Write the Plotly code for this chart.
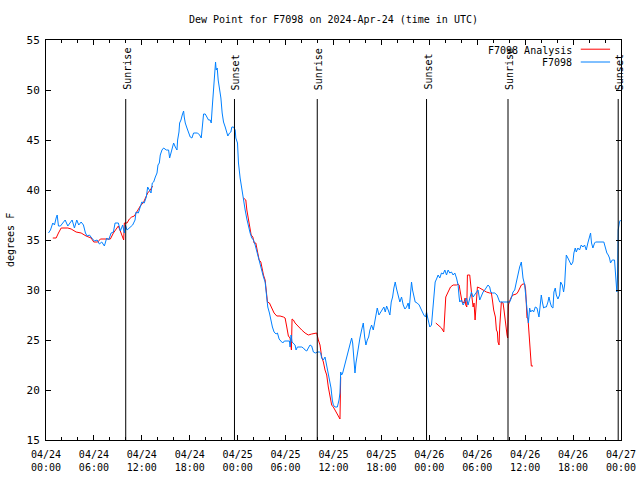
import plotly.graph_objects as go
from datetime import datetime, timedelta

# ---- data (hours after 2024-04-24 00:00 UTC, dew point in degrees F) ----
base_time = "2024-04-24 00:00"

obs_hours = [0.31, 0.56, 0.85, 1.06, 1.27, 1.40, 1.56, 1.81, 2.10, 2.40, 2.73, 3.00, 3.27, 3.56, 3.85, 4.10,
             4.40, 4.69, 4.94, 5.15, 5.44, 5.73, 6.06, 6.40, 6.69, 6.98, 7.31, 7.60, 7.85, 8.15, 8.44, 8.65,
             9.06, 9.31, 9.60, 9.81, 9.94, 10.15, 10.44, 10.85, 11.15, 11.27, 11.56, 11.81, 12.00, 12.30,
             12.56, 12.73, 12.98, 13.15, 13.31, 13.48, 13.69, 13.90, 14.02, 14.19, 14.31, 14.52, 14.73,
             15.06, 15.35, 15.48, 15.65, 15.81, 15.98, 16.19, 16.40, 16.48, 16.65, 16.73, 16.90, 17.06,
             17.23, 17.31, 17.44, 17.65, 17.85, 18.06, 18.27, 18.48, 18.98, 19.23, 19.44, 19.56, 19.73,
             19.94, 20.15, 20.35, 20.56, 20.69, 20.81, 20.98, 21.10, 21.23, 21.31, 21.44, 21.56, 21.73,
             21.90, 22.06, 22.23, 22.44, 22.65, 22.77, 22.98, 23.15, 23.27, 23.48, 23.69, 23.77, 23.98,
             24.10, 24.31, 24.52, 24.73, 24.94, 25.15, 25.35, 25.56, 25.77, 25.98, 26.19, 26.40, 26.60,
             26.81, 27.02, 27.23, 27.44, 27.56, 27.65, 27.77, 27.98, 28.15, 28.35, 28.56, 28.81, 28.98,
             29.19, 29.40, 29.65, 29.85, 30.48, 30.56, 30.69, 30.81, 30.98, 31.19, 31.31, 31.48, 32.02,
             32.23, 32.44, 32.65, 32.85, 33.06, 33.27, 33.48, 33.73, 33.98, 34.23, 34.40, 34.52, 34.73,
             34.94, 35.06, 35.23, 35.40, 35.56, 35.69, 35.85, 35.98, 36.19, 36.48, 36.69, 36.81, 36.90,
             37.02, 37.15, 37.31, 37.48, 37.65, 37.85, 37.98, 38.15, 38.27, 38.40, 38.56, 38.69, 38.81,
             38.98, 39.15, 39.31, 39.52, 39.73, 39.90, 40.06, 40.23, 40.40, 40.56, 40.77, 40.98, 41.15,
             41.31, 41.48, 41.69, 41.90, 42.10, 42.31, 42.48, 42.65, 42.85, 43.06, 43.23, 43.40, 43.56,
             43.73, 43.90, 44.10, 44.31, 44.52, 44.73, 44.94, 45.15, 45.35, 45.48, 45.65, 45.77, 45.90,
             46.06, 46.23, 46.48, 46.73, 46.90, 47.10, 47.31, 47.52, 47.65, 47.77, 47.90, 48.06, 48.27,
             48.40, 48.56, 48.73, 48.90, 49.10, 49.31, 49.52, 49.73, 49.94, 50.15, 50.35, 50.56, 50.77,
             50.98, 51.19, 51.40, 51.60, 51.73, 51.81, 52.02, 52.23, 52.44, 52.65, 52.85, 53.06, 53.27,
             53.48, 53.69, 53.90, 54.10, 54.31, 54.52, 54.73, 54.94, 55.15, 55.35, 55.56, 55.69, 55.90,
             56.19, 56.48, 56.65, 56.81, 58.06, 58.27, 58.48, 58.69, 58.90, 59.10, 59.31, 59.52, 59.65,
             59.73, 59.94, 60.15, 60.27, 60.40, 60.56, 60.69, 60.90, 61.06, 61.27, 61.48, 61.73, 61.90,
             62.02, 62.15, 62.31, 62.48, 62.65, 62.85, 62.98, 63.15, 63.31, 63.48, 63.60, 63.77, 63.90,
             64.10, 64.31, 64.44, 64.65, 64.81, 64.94, 65.02, 65.15, 65.35, 65.56, 65.77, 65.98, 66.10,
             66.27, 66.40, 66.60, 66.81, 67.02, 67.23, 67.44, 67.65, 67.85, 68.06, 68.19, 68.31, 68.48,
             68.69, 68.81, 69.85, 70.06, 70.23, 70.40, 70.56, 70.69, 70.90, 71.19, 71.31, 71.40, 71.48,
             71.56, 71.65, 71.81, 71.94]
obs_values = [35.7, 36.0, 36.7, 36.5, 37.2, 37.5, 36.4, 36.4, 36.7, 37.0, 36.4, 36.7, 37.0, 36.2, 37.0, 36.5,
              36.8, 36.5, 35.7, 35.4, 35.5, 35.2, 34.9, 35.0, 34.6, 34.8, 34.4, 35.2, 35.0, 35.7, 35.8, 36.7,
              36.7, 35.9, 36.5, 35.7, 36.5, 36.0, 36.2, 36.5, 37.0, 37.8, 37.7, 38.3, 38.8, 38.7,
              39.3, 40.3, 40.0, 39.7, 40.7, 40.8, 41.3, 41.7, 42.5, 42.7, 43.5, 44.0, 44.2,
              44.0, 44.0, 43.2, 43.7, 44.3, 44.7, 44.3, 44.0, 45.0, 45.8, 46.7, 47.0, 47.5,
              47.9, 47.3, 46.7, 46.2, 45.8, 45.3, 45.2, 45.7, 45.7, 45.5, 45.2, 46.3, 47.6,
              47.6, 47.2, 47.0, 47.0, 46.7, 48.2, 50.0, 51.3, 52.8, 52.0, 52.2, 51.0, 50.0,
              49.2, 47.7, 46.8, 46.3, 45.8, 45.4, 45.7, 45.8, 46.3, 46.3, 46.0, 45.2, 44.7,
              42.7, 41.2, 40.0, 39.0, 38.0, 37.1, 36.3, 35.7, 35.2, 35.0, 34.5, 33.8, 33.2,
              32.5, 32.0, 31.3, 30.8, 30.0, 29.0, 28.3, 27.7, 27.0, 26.3, 25.8, 25.6, 25.7,
              25.1, 24.9, 24.7, 24.9, 24.9, 24.3, 25.5, 24.8, 24.7, 24.5, 24.0, 24.3, 24.3,
              24.2, 24.0, 23.9, 24.2, 24.5, 24.4, 23.8, 23.7, 23.8, 23.8, 23.7, 23.2, 23.0,
              23.3, 22.8, 22.2, 21.3, 20.8, 20.2, 19.0, 18.5, 18.3, 18.3, 19.0, 19.7, 21.8,
              21.5, 21.7, 22.2, 22.7, 23.3, 24.0, 24.2, 25.0, 25.2, 24.7, 23.0, 21.7, 22.7,
              23.7, 24.2, 25.2, 26.0, 26.7, 25.3, 24.5, 25.0, 25.3, 26.0, 26.5, 26.0, 26.8,
              27.8, 28.2, 27.5, 27.8, 28.1, 28.3, 27.8, 28.4, 28.0, 27.5, 28.8, 29.3, 30.2,
              30.8, 30.1, 29.3, 28.8, 29.3, 28.5, 28.1, 28.3, 28.7, 28.1, 29.7, 30.8, 30.0,
              29.3, 28.8, 28.7, 28.5, 28.2, 27.8, 27.5, 27.3, 27.8, 27.3, 26.8, 26.3, 26.5,
              28.0, 29.8, 30.8, 31.1, 31.5, 31.2, 31.7, 31.6, 32.0, 31.5, 32.0, 31.7, 31.8,
              31.5, 31.7, 31.2, 30.5, 29.3, 28.8, 29.0, 28.5, 28.8, 29.2, 28.5, 29.2, 29.8,
              29.3, 29.5, 29.8, 30.0, 29.0, 29.5, 29.8, 30.0, 30.2, 30.5, 30.3, 29.8, 29.7,
              29.7, 29.5, 29.2, 28.8, 28.8, 29.2, 29.8, 30.0, 30.8, 31.7, 32.3, 32.8, 32.0,
              31.2, 30.5, 29.0, 28.0, 26.7, 28.2, 27.8, 28.0, 27.8, 28.3, 28.2, 27.3, 28.5,
              29.5, 28.8, 28.2, 28.3, 28.3, 28.8, 29.3, 28.7, 28.3, 28.2, 29.8, 30.2, 29.5,
              29.1, 29.5, 30.8, 30.5, 29.8, 30.5, 31.7, 33.5, 33.2, 32.8, 32.5, 32.8, 33.7,
              34.2, 33.8, 34.2, 34.0, 34.5, 34.3, 34.5, 34.0, 34.7, 35.5, 35.7, 34.7, 34.2,
              34.7, 34.8, 34.8, 34.2, 33.7, 33.5, 33.2, 32.7, 33.0, 33.0, 32.0, 31.2, 29.8,
              31.2, 36.0, 36.8, 37.0]

ana_hours = [0.85, 1.27, 1.56, 1.90, 2.73, 3.15, 3.77, 4.40, 5.02, 5.65, 5.98, 6.48, 6.81, 8.06, 8.44, 8.77,
             9.06, 9.40, 9.73, 9.81, 10.15, 10.44, 10.73, 11.06, 11.48, 11.81, 12.23, 12.73, 13.06, 13.35,
             None,
             24.73, 25.02, 25.15, 25.35, 25.56, 25.69, 25.90, 26.06, 26.27, 26.48, 26.69, 26.90, 27.10,
             27.23, 27.44, 27.56, 27.73, 27.98, 28.27, 28.56, 28.90, 29.31, 29.73, 29.94, 30.15, 30.35,
             30.56, 30.65, 30.73, 30.81, 30.98, 31.19, 31.40, 31.60, 31.81, 32.02, 32.44, 32.85, 33.27,
             33.69, 33.90, 34.10, 34.31, 34.52, 34.73, 34.94, 35.15, 35.35, 35.56, 35.77, 35.98, 36.19,
             36.40, 36.60, 36.81, 36.90,
             None,
             48.81, 49.10, 49.52, 49.81, 49.94, 50.06, 50.35, 50.65, 50.98, 51.40, 51.60, 51.73, 51.90,
             52.10, 52.23, 52.35, 52.48, 52.56, 52.69, 52.77, 53.06, 53.19, 53.35, 53.48, 53.60, 53.73,
             53.90, 54.02, 54.31, 54.73, 55.15, 55.56, 55.77, 55.90, 56.06, 56.27, 56.40, 56.52, 56.60,
             56.73, 56.81, 57.02, 57.23, 57.35, 57.48, 57.65, 57.73, 57.81, 57.90, 58.06, 58.27, 58.48,
             58.90, 59.10, 59.31, 59.52, 59.73, 59.94, 60.06, 60.15, 60.23, 60.35, 60.48, 60.56, 60.65,
             60.77, 60.98]
ana_values = [35.2, 35.2, 35.7, 36.2, 36.2, 36.1, 35.8, 35.7, 35.4, 35.2, 34.8, 34.8, 35.1, 35.1, 35.7, 36.1,
              36.4, 35.7, 35.0, 36.7, 36.7, 37.1, 37.3, 37.4, 38.0, 38.4, 38.8, 39.7, 40.0, 40.4,
              None,
              39.2, 39.0, 38.0, 37.0, 36.0, 35.5, 35.3, 34.7, 34.7, 33.7, 33.0, 32.8, 31.8,
              31.5, 31.0, 30.2, 28.8, 28.7, 28.2, 27.7, 27.4, 27.4, 27.3, 27.2, 26.3, 25.4,
              25.2, 24.3, 24.0, 27.1, 27.0, 26.7, 26.5, 26.3, 26.2, 26.0, 25.7, 25.5, 25.6,
              25.7, 25.7, 25.0, 24.5, 23.3, 22.8, 22.0, 21.5, 20.3, 19.3, 18.5, 18.3, 18.0,
              17.7, 17.5, 17.1, 21.3,
              None,
              26.7, 26.5, 26.2, 25.8, 28.0, 29.3, 29.8, 30.3, 30.5, 30.5, 30.6, 30.5, 29.7,
              28.8, 28.7, 28.8, 29.2, 28.5, 28.3, 31.5, 31.5, 30.0, 29.2, 28.3, 28.7, 27.0,
              29.3, 30.3, 30.2, 30.0, 29.8, 29.7, 29.7, 29.0, 28.0, 27.3, 26.0, 25.8, 24.8,
              24.5, 26.3, 28.8, 28.7, 28.0, 27.0, 26.3, 25.5, 25.2, 28.5, 28.9, 29.3, 29.5,
              29.6, 29.8, 30.2, 30.5, 30.6, 30.6, 30.0, 28.3, 27.2, 27.2, 25.7, 24.3, 23.3,
              22.4, 22.4]

sun_times = ["2024-04-24 09:59", "2024-04-24 23:36", "2024-04-25 09:58",
             "2024-04-25 23:39", "2024-04-26 09:51", "2024-04-26 23:39"]
sun_labels = ["Sunrise", "Sunset", "Sunrise", "Sunset", "Sunrise", "Sunset"]

tick_times = ["2024-04-24 00:00", "2024-04-24 06:00", "2024-04-24 12:00", "2024-04-24 18:00",
              "2024-04-25 00:00", "2024-04-25 06:00", "2024-04-25 12:00", "2024-04-25 18:00",
              "2024-04-26 00:00", "2024-04-26 06:00", "2024-04-26 12:00", "2024-04-26 18:00",
              "2024-04-27 00:00"]
tick_labels = ["04/24<br>00:00", "04/24<br>06:00", "04/24<br>12:00", "04/24<br>18:00",
               "04/25<br>00:00", "04/25<br>06:00", "04/25<br>12:00", "04/25<br>18:00",
               "04/26<br>00:00", "04/26<br>06:00", "04/26<br>12:00", "04/26<br>18:00",
               "04/27<br>00:00"]

series_names = ["F7098 Analysis", "F7098"]
series_colors = ["#ff0000", "#0080ff"]

# ---- build ----
t0 = datetime.strptime(base_time, "%Y-%m-%d %H:%M")


def to_times(hours):
    return [None if h is None else t0 + timedelta(hours=h) for h in hours]


FONT = "DejaVu Sans Mono"
fig = go.Figure()
fig.add_trace(go.Scatter(x=to_times(ana_hours), y=ana_values, mode="lines", name=series_names[0],
                         line=dict(color=series_colors[0], width=1), connectgaps=False))
fig.add_trace(go.Scatter(x=to_times(obs_hours), y=obs_values, mode="lines", name=series_names[1],
                         line=dict(color=series_colors[1], width=1), connectgaps=False))

for t, lab in zip(sun_times, sun_labels):
    fig.add_shape(type="line", xref="x", yref="paper", x0=t, x1=t, y0=0, y1=0.8525,
                  line=dict(color="black", width=1))
    fig.add_annotation(x=t, y=0.87, xref="x", yref="paper", text=lab, showarrow=False,
                       textangle=-90, xanchor="center", yanchor="bottom", xshift=1,
                       font=dict(family=FONT, size=10, color="black"))

# manual legend (text on left, sample on right, gnuplot style)
legend_rows_y = [0.975, 0.943]
for name, col, yy in zip(series_names, series_colors, legend_rows_y):
    fig.add_annotation(x=0.918, y=yy, xref="paper", yref="paper", text=name, showarrow=False,
                       xanchor="right", yanchor="middle",
                       font=dict(family=FONT, size=10, color="black"))
    fig.add_shape(type="line", xref="paper", yref="paper", x0=0.930, x1=0.981, y0=yy + 0.002,
                  y1=yy + 0.002, line=dict(color=col, width=1))

fig.add_annotation(x=0, y=0.5, xref="paper", yref="paper", text="degrees F", showarrow=False,
                   textangle=-90, xanchor="center", yanchor="middle", xshift=-36,
                   font=dict(family=FONT, size=10, color="black"))

fig.update_layout(
    width=640, height=480,
    margin=dict(l=46, r=19, t=40, b=40),
    paper_bgcolor="white", plot_bgcolor="white",
    showlegend=False,
    font=dict(family=FONT, size=10, color="black"),
    title=dict(text="Dew Point for F7098 on 2024-Apr-24 (time in UTC)", x=0.5, xref="paper",
               y=1 - 19 / 480, yref="container", xanchor="center", yanchor="middle",
               font=dict(family=FONT, size=10, color="black")),
)
fig.update_xaxes(
    type="date", range=["2024-04-24 00:00", "2024-04-27 00:00"],
    tickmode="array", tickvals=tick_times, ticktext=tick_labels,
    ticks="inside", ticklen=5, tickcolor="black", tickwidth=1,
    minor=dict(tickmode="linear", tick0="2024-04-24", dtick=7200000, ticks="inside",
               ticklen=3, tickcolor="black", tickwidth=1, showgrid=False),
    showline=True, linecolor="black", linewidth=1, mirror="ticks",
    showgrid=False, zeroline=False, automargin=False, ticklabelstandoff=5,
    tickfont=dict(family=FONT, size=10, color="black"),
)
fig.update_yaxes(
    range=[15, 55], tickmode="linear", tick0=15, dtick=5,
    ticks="inside", ticklen=5, tickcolor="black", tickwidth=1,
    showline=True, linecolor="black", linewidth=1, mirror="ticks",
    showgrid=False, zeroline=False, automargin=False, ticklabelstandoff=3,
    tickfont=dict(family=FONT, size=11, color="black"),
)

fig.write_html("out.html", config={"displayModeBar": False},
               post_script="document.body.style.margin='0';document.body.style.overflow='hidden';")
